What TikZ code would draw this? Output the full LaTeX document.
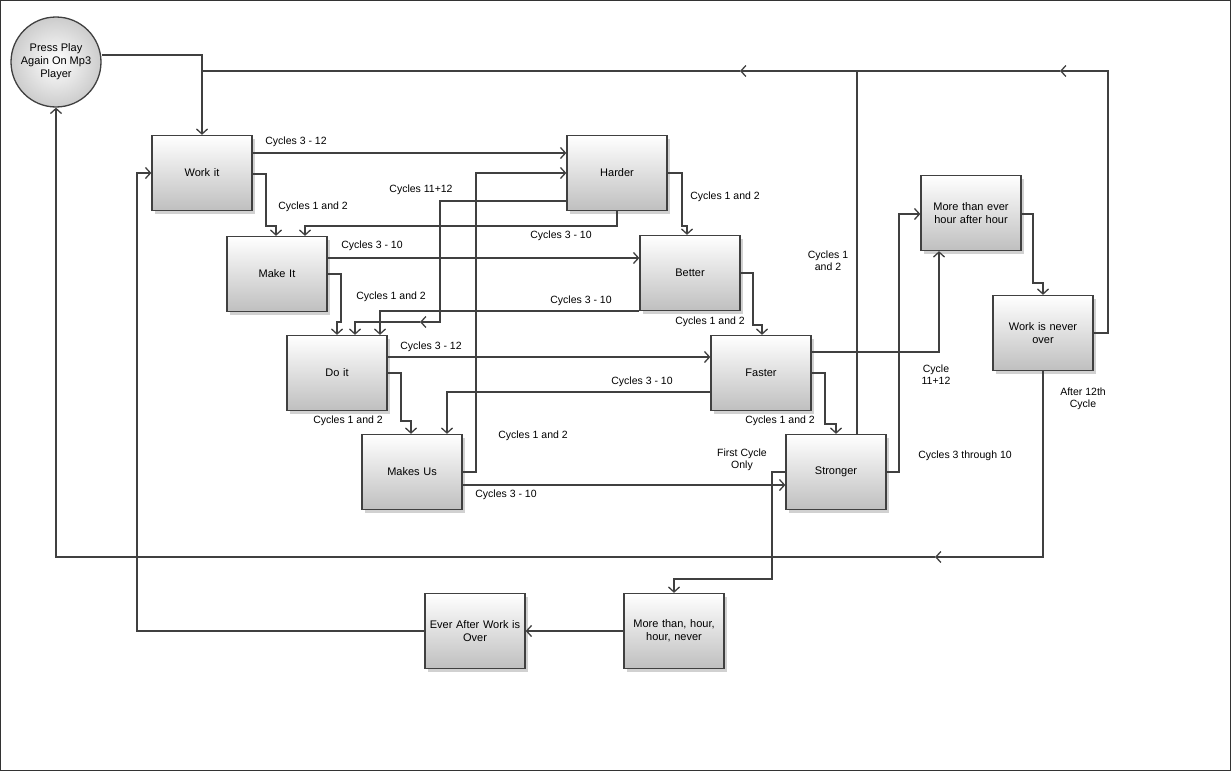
\documentclass[tikz,border=0pt]{standalone}
\usepackage{fontspec}
\setmainfont{Liberation Sans}
\usetikzlibrary{arrows.meta,shadows}
\begin{document}
\begin{tikzpicture}[x=1pt,y=-1pt,
  box/.style={draw=black!75,line width=1.3pt,minimum width=100pt,minimum height=75pt,
    top color=white,bottom color=black!25,align=center,text width=92pt,
    font=\fontsize{11}{13}\selectfont,
    drop shadow={shadow xshift=3pt,shadow yshift=-3pt,fill=black!30,opacity=.6}},
  con/.style={draw=black!75,line width=1.3pt},
  arr/.style={con,-{Straight Barb[length=5pt,width=11pt,line width=1.3pt]}},
  lab/.style={font=\fontsize{10.5}{12}\selectfont,align=center,inner sep=0pt}]
\path[use as bounding box] (0,0) rectangle (1231,771);
\draw[black!80,line width=0.8pt] (0.5,0.5) rectangle (1230,770);

\node[circle,draw=black!75,line width=1.3pt,minimum size=90pt,inner sep=0pt,
  inner color=white,outer color=black!20,align=center,font=\fontsize{11}{13}\selectfont] (play) at (56,62) {Press Play\\Again On Mp3\\Player};
\node[box] (workit) at (202,173) {Work it};
\node[box] (makeit) at (277,274) {Make It};
\node[box] (doit) at (337,373) {Do it};
\node[box] (makesus) at (412,472) {Makes Us};
\node[box] (harder) at (617,173) {Harder};
\node[box] (better) at (690,273) {Better};
\node[box] (faster) at (761,373) {Faster};
\node[box] (stronger) at (836,472) {Stronger};
\node[box] (ever) at (971,213) {More than ever\\hour after hour};
\node[box] (never) at (1043,333) {Work is never\\over};
\node[box] (hour) at (674,631) {More than, hour,\\hour, never};
\node[box] (after) at (475,631) {Ever After Work is\\Over};

\coordinate (m1) at (420,322);
\coordinate (m2) at (740,71);
\coordinate (m3) at (1060,71);
\coordinate (m4) at (935,557);
\coordinate (top) at (202,71);

% work it
\draw[arr] (workit.east |- 0,153) -- (harder.west |- 0,153);
\draw[arr] (workit.east |- 0,174) -- (266,174) -- (266,226) -- (276,226) -- (makeit.north -| 276,0);
% harder
\draw[arr] (harder.south) -- (617,226) -- (305,226) -- (makeit.north -| 305,0);
\draw[arr] (harder.west |- 0,201) -- (440,201) -- (440,322) -- (m1);
\draw[arr] (m1) -- (355,322) -- (doit.north -| 355,0);
\draw[arr] (harder.east) -- (682,173) -- (682,226) -- (687,226) -- (better.north -| 687,0);
% make it
\draw[arr] (makeit.east |- 0,258) -- (better.west |- 0,258);
\draw[arr] (makeit.east) -- (341,274) -- (341,322) -- (337,322) -- (doit.north);
% better
\draw[arr] (better.west |- 0,311) -- (380,311) -- (doit.north -| 380,0);
\draw[arr] (better.east) -- (753,273) -- (753,325) -- (762,325) -- (faster.north -| 762,0);
% do it
\draw[arr] (doit.east |- 0,357) -- (faster.west |- 0,357);
\draw[arr] (doit.east) -- (401,373) -- (401,421) -- (411,421) -- (makesus.north -| 411,0);
% faster
\draw[arr] (faster.west |- 0,392) -- (447,392) -- (makesus.north -| 447,0);
\draw[arr] (faster.east) -- (825,373) -- (825,424) -- (836,424) -- (stronger.north);
\draw[arr] (faster.east |- 0,352) -- (939,352) -- (ever.south -| 939,0);
% makes us
\draw[arr] (makesus.east |- 0,472) -- (476,472) -- (476,173) -- (harder.west);
\draw[arr] (makesus.east |- 0,485) -- (stronger.west |- 0,485);
% stronger
\draw[arr] (stronger.west) -- (772,472) -- (772,579) -- (674,579) -- (hour.north);
\draw[arr] (stronger.east) -- (899,472) -- (899,214) -- (ever.west |- 0,214);
\draw[arr] (stronger.north -| 857,0) -- (857,71) -- (m2);
\draw[arr] (m2) -- (top) -- (workit.north);
% ever / never
\draw[arr] (ever.east |- 0,214) -- (1033,214) -- (1033,283) -- (1043,283) -- (never.north);
\draw[arr] (never.east) -- (1108,333) -- (1108,71) -- (m3);
\draw[con] (m3) -- (857,71);
\draw[arr] (never.south) -- (1043,557) -- (m4);
\draw[arr] (m4) -- (56,557) -- (play.south);
% bottom
\draw[arr] (hour.west) -- (after.east);
\draw[arr] (after.west) -- (137,631) -- (137,173) -- (workit.west);
\draw[con] (play.east |- 0,55) -- (202,55) -- (top);

% labels
\node[lab] at (296,142) {Cycles 3 - 12};
\node[lab] at (313,207) {Cycles 1 and 2};
\node[lab] at (561,236) {Cycles 3 - 10};
\node[lab] at (421,190) {Cycles 11+12};
\node[lab] at (533,436) {Cycles 1 and 2};
\node[lab] at (372,246) {Cycles 3 - 10};
\node[lab] at (391,297) {Cycles 1 and 2};
\node[lab] at (581,301) {Cycles 3 - 10};
\node[lab] at (725,197) {Cycles 1 and 2};
\node[lab] at (710,322) {Cycles 1 and 2};
\node[lab] at (431,347) {Cycles 3 - 12};
\node[lab] at (348,421) {Cycles 1 and 2};
\node[lab] at (642,382) {Cycles 3 - 10};
\node[lab] at (506,495) {Cycles 3 - 10};
\node[lab] at (780,421) {Cycles 1 and 2};
\node[lab] at (742,460) {First Cycle\\Only};
\node[lab] at (936,375) {Cycle\\11+12};
\node[lab] at (965,456) {Cycles 3 through 10};
\node[lab] at (828,261) {Cycles 1\\and 2};
\node[lab] at (1083,399) {After 12th\\Cycle};
\end{tikzpicture}
\end{document}
